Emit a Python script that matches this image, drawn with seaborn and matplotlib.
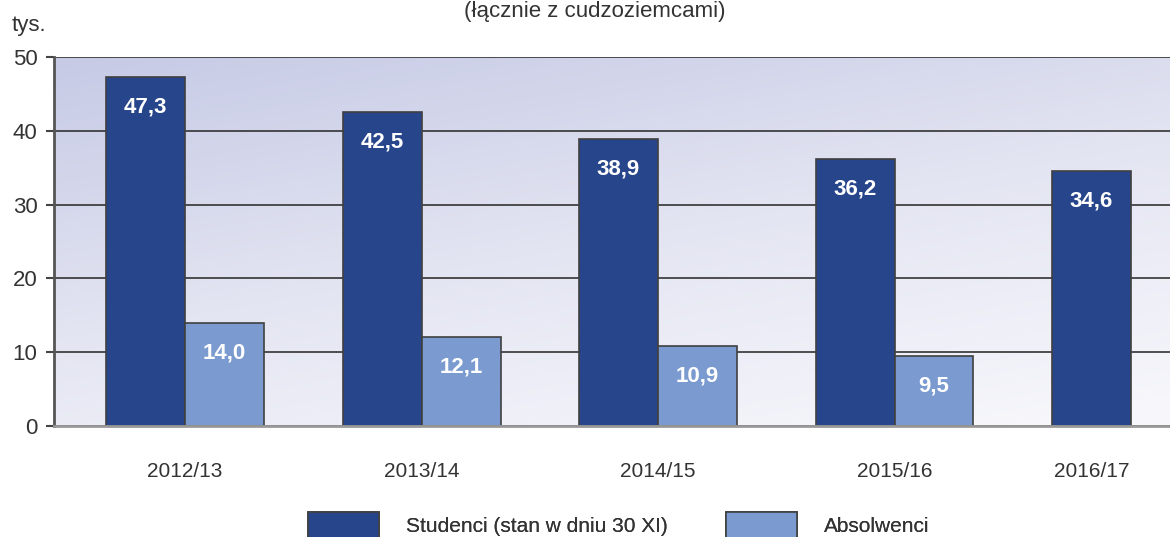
import numpy as np
import pandas as pd
import matplotlib
matplotlib.use('Agg')
import matplotlib.pyplot as plt
from matplotlib.colors import LinearSegmentedColormap
from matplotlib.patches import Patch
import seaborn as sns

# dane (tys.)
lata = ['2012/13', '2013/14', '2014/15', '2015/16', '2016/17']
studenci = [47.3, 42.5, 38.9, 36.2, 34.6]
absolwenci = [14.0, 12.1, 10.9, 9.5, np.nan]
serie = ['Studenci (stan w dniu 30 XI)', 'Absolwenci']
kolory = ['#27458B', '#7B9BD0']
y_ticks = [0, 10, 20, 30, 40, 50]

df = pd.DataFrame({
    'rok': lata * 2,
    'seria': [serie[0]] * len(lata) + [serie[1]] * len(lata),
    'wartosc': studenci + absolwenci,
})

sns.set_style('white')
plt.rcParams['font.family'] = ['Liberation Sans Narrow', 'Liberation Sans', 'DejaVu Sans']

fig = plt.figure(figsize=(11.7, 5.37), dpi=100)
ax = fig.add_axes([0.0462, 0.2067, 0.9538, 0.6872])

width = 0.668
sns.barplot(data=df, x='rok', y='wartosc', hue='seria', palette=kolory,
            width=width, edgecolor='#404040', linewidth=1.2, legend=False,
            saturation=1, ax=ax, zorder=2)

# tlo - gradient (ciemniej u gory po lewej)
xx, yy = np.meshgrid(np.linspace(0, 1, 300), np.linspace(0, 1, 120))
grad = 0.35 * xx + 0.65 * yy
cmap = LinearSegmentedColormap.from_list('tlo', ['#C6CAE5', '#E3E5F2', '#F8F8FC'])
ax.imshow(grad, extent=[0, 1, 0, 1], origin='upper', transform=ax.transAxes,
          aspect='auto', cmap=cmap, zorder=0, interpolation='bilinear')

ax.set_xlim(-0.554, 4.165)
ax.set_ylim(0, 50)
ax.set_yticks(y_ticks)
ax.yaxis.grid(True, color='#333333', linewidth=1.2)
for line in ax.get_ygridlines():
    line.set_zorder(1)

# etykiety wartosci
for cont in ax.containers:
    for p in cont:
        h = p.get_height()
        if np.isnan(h) or h == 0:
            continue
        ax.annotate(f'{h:.1f}'.replace('.', ','), (p.get_x() + p.get_width() / 2, h),
                    xytext=(0, -21.6), textcoords='offset points', ha='center', va='center',
                    color='white', fontsize=16, fontweight='bold', zorder=3)

# pozycje podpisow osi X
pos = [i - width / 4 if np.isnan(a) else i for i, a in enumerate(absolwenci)]
ax.set_xticks(pos)
ax.set_xticklabels(lata)
ax.set_xlabel('')
ax.set_ylabel('')
ax.tick_params(axis='x', length=0, pad=26, labelsize=15, labelcolor='#333333')
ax.tick_params(axis='y', length=6, width=1.5, color='#444444', pad=6,
               labelsize=16, labelcolor='#333333', left=True)

ax.spines['right'].set_visible(False)
ax.spines['top'].set_visible(False)
ax.spines['left'].set_color('#555555')
ax.spines['left'].set_linewidth(2)
ax.spines['bottom'].set_color('#999999')
ax.spines['bottom'].set_linewidth(2)

fig.text(0.010, 1 - 31 / 537, 'tys.', fontsize=16, color='#333333', va='baseline')
fig.text(0.508, 1 - 17 / 537, '(łącznie z cudzoziemcami)', fontsize=16,
         color='#333333', ha='center', va='baseline')

# legenda
for i, (s, k) in enumerate(zip(serie, kolory)):
    x0 = [308, 726][i] / 1170
    leg = fig.legend(handles=[Patch(facecolor=k, edgecolor='#404040', linewidth=1.2, label=s)],
                     loc='center left', bbox_to_anchor=(x0, 1 - 525 / 537), frameon=False,
                     fontsize=15, handlelength=3.4, handleheight=1.5, handletextpad=1.3,
                     borderpad=0, borderaxespad=0, labelcolor='#333333')
    fig.add_artist(leg)

fig.savefig('out.png', dpi=100)
